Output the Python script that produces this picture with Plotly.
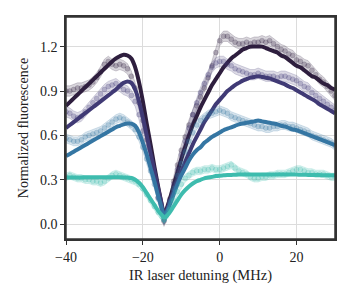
import plotly.graph_objects as go

# detuning grid (MHz)
x_det = [-40, -39, -38, -37, -36, -35, -34, -33, -32, -31, -30, -29, -28, -27, -26, -25,
         -24, -23, -22, -21, -20, -19, -18, -17, -16, -15, -14.5, -14, -13, -12, -11, -10,
         -9, -8, -7, -6, -5, -4, -3, -2, -1, 0, 1, 2, 3, 4, 5, 6, 7, 8, 9, 10, 11, 12, 13,
         14, 15, 16, 17, 18, 19, 20, 21, 22, 23, 24, 25, 26, 27, 28, 29, 30]

# measured data
data_1 = [0.90, 0.90, 0.91, 0.92, 0.92, 0.93, 0.94, 0.96, 0.99, 1.03, 1.08, 1.10, 1.08, 1.07, 1.08, 1.07,
          1.05, 1.00, 0.92, 0.82, 0.70, 0.57, 0.44, 0.31, 0.18, 0.07, 0.02, 0.06, 0.17, 0.29, 0.40, 0.50,
          0.59, 0.67, 0.74, 0.80, 0.86, 0.92, 0.99, 1.07, 1.16, 1.24, 1.27, 1.27, 1.25, 1.23, 1.22, 1.22,
          1.23, 1.22, 1.23, 1.23, 1.24, 1.23, 1.24, 1.22, 1.20, 1.18, 1.17, 1.15, 1.14, 1.11, 1.10, 1.08,
          1.07, 1.04, 1.01, 0.98, 0.96, 0.93, 0.90, 0.87]
data_2 = [0.76, 0.75, 0.73, 0.72, 0.73, 0.76, 0.79, 0.82, 0.85, 0.88, 0.91, 0.93, 0.94, 0.95, 0.93, 0.91,
          0.90, 0.87, 0.83, 0.74, 0.63, 0.52, 0.41, 0.30, 0.18, 0.08, 0.03, 0.06, 0.16, 0.27, 0.37, 0.47,
          0.56, 0.65, 0.74, 0.82, 0.89, 0.95, 1.01, 1.06, 1.09, 1.10, 1.10, 1.08, 1.07, 1.05, 1.04, 1.03,
          1.02, 1.01, 1.01, 1.02, 1.01, 1.00, 1.00, 1.00, 0.99, 1.00, 1.00, 0.99, 0.98, 0.97, 0.95, 0.93,
          0.92, 0.89, 0.87, 0.85, 0.83, 0.81, 0.79, 0.77]
data_3 = [0.58, 0.57, 0.56, 0.56, 0.57, 0.59, 0.60, 0.61, 0.62, 0.63, 0.65, 0.67, 0.69, 0.71, 0.72, 0.71,
          0.69, 0.67, 0.64, 0.59, 0.52, 0.44, 0.36, 0.27, 0.17, 0.08, 0.03, 0.06, 0.15, 0.24, 0.33, 0.41,
          0.49, 0.56, 0.62, 0.67, 0.70, 0.72, 0.74, 0.75, 0.76, 0.77, 0.76, 0.75, 0.73, 0.72, 0.71, 0.70,
          0.69, 0.68, 0.67, 0.66, 0.66, 0.65, 0.65, 0.66, 0.66, 0.67, 0.67, 0.66, 0.66, 0.65, 0.64, 0.63,
          0.62, 0.60, 0.59, 0.58, 0.57, 0.56, 0.55, 0.53]
data_4 = [0.32, 0.33, 0.32, 0.31, 0.31, 0.30, 0.30, 0.29, 0.29, 0.28, 0.29, 0.31, 0.33, 0.34, 0.33, 0.32,
          0.31, 0.30, 0.29, 0.27, 0.24, 0.20, 0.16, 0.12, 0.08, 0.05, 0.03, 0.05, 0.10, 0.16, 0.22, 0.27,
          0.31, 0.33, 0.35, 0.36, 0.36, 0.37, 0.37, 0.38, 0.37, 0.37, 0.38, 0.39, 0.40, 0.38, 0.36, 0.35,
          0.34, 0.32, 0.31, 0.31, 0.32, 0.32, 0.33, 0.33, 0.34, 0.34, 0.34, 0.35, 0.36, 0.37, 0.37, 0.36,
          0.35, 0.35, 0.34, 0.34, 0.34, 0.33, 0.32, 0.32]

# uncertainty half-widths of the shaded bands
err_1 = 0.035
err_2 = 0.035
err_3 = 0.03
err_4 = 0.025

# model curves
model_1 = [0.80, 0.825, 0.85, 0.875, 0.90, 0.925, 0.95, 0.975, 1.00, 1.025, 1.05, 1.075, 1.10, 1.12, 1.135, 1.145,
           1.14, 1.12, 1.06, 0.96, 0.83, 0.68, 0.54, 0.39, 0.25, 0.12, 0.05, 0.09, 0.17, 0.26, 0.35, 0.44,
           0.52, 0.60, 0.67, 0.73, 0.79, 0.84, 0.89, 0.94, 0.98, 1.02, 1.06, 1.09, 1.12, 1.14, 1.16, 1.18,
           1.19, 1.20, 1.20, 1.20, 1.20, 1.19, 1.18, 1.17, 1.16, 1.14, 1.13, 1.11, 1.09, 1.07, 1.06, 1.04,
           1.02, 1.00, 0.99, 0.97, 0.95, 0.94, 0.92, 0.91]
model_2 = [0.65, 0.67, 0.69, 0.71, 0.73, 0.75, 0.77, 0.79, 0.81, 0.83, 0.85, 0.87, 0.89, 0.91, 0.935, 0.955,
           0.965, 0.955, 0.91, 0.83, 0.72, 0.60, 0.48, 0.36, 0.24, 0.12, 0.05, 0.08, 0.15, 0.22, 0.29, 0.36,
           0.42, 0.48, 0.54, 0.59, 0.64, 0.69, 0.73, 0.77, 0.81, 0.84, 0.87, 0.90, 0.92, 0.94, 0.955, 0.97,
           0.98, 0.99, 0.995, 1.00, 0.995, 0.99, 0.985, 0.975, 0.965, 0.955, 0.945, 0.93, 0.92, 0.905, 0.89, 0.875,
           0.86, 0.845, 0.83, 0.81, 0.795, 0.78, 0.765, 0.75]
model_3 = [0.46, 0.475, 0.49, 0.505, 0.52, 0.535, 0.55, 0.565, 0.58, 0.595, 0.61, 0.625, 0.64, 0.655, 0.665, 0.675,
           0.68, 0.68, 0.665, 0.62, 0.55, 0.47, 0.38, 0.29, 0.19, 0.10, 0.05, 0.07, 0.13, 0.20, 0.27, 0.33,
           0.38, 0.43, 0.47, 0.50, 0.52, 0.55, 0.57, 0.59, 0.605, 0.62, 0.635, 0.645, 0.655, 0.665, 0.675, 0.68,
           0.685, 0.69, 0.695, 0.70, 0.695, 0.69, 0.685, 0.68, 0.675, 0.665, 0.66, 0.65, 0.64, 0.635, 0.625, 0.615,
           0.605, 0.595, 0.585, 0.575, 0.565, 0.555, 0.545, 0.535]
model_4 = [0.315, 0.315, 0.315, 0.316, 0.316, 0.317, 0.317, 0.318, 0.318, 0.318, 0.318, 0.318, 0.318, 0.318, 0.317, 0.316,
           0.315, 0.312, 0.30, 0.28, 0.25, 0.21, 0.17, 0.13, 0.09, 0.06, 0.045, 0.05, 0.08, 0.12, 0.16, 0.20,
           0.23, 0.255, 0.275, 0.29, 0.30, 0.31, 0.315, 0.32, 0.325, 0.328, 0.33, 0.332, 0.333, 0.334, 0.335, 0.335,
           0.335, 0.335, 0.335, 0.335, 0.335, 0.335, 0.335, 0.335, 0.335, 0.335, 0.335, 0.335, 0.335, 0.335, 0.334, 0.334,
           0.333, 0.333, 0.332, 0.332, 0.331, 0.331, 0.330, 0.330]

colors = [(46, 30, 62), (64, 58, 117), (53, 118, 163), (62, 188, 174)]
series = [(data_1, err_1, model_1), (data_2, err_2, model_2),
          (data_3, err_3, model_3), (data_4, err_4, model_4)]

def rgba(c, a):
    return f"rgba({c[0]},{c[1]},{c[2]},{a})"

fig = go.Figure()
for (d, e, m), c in zip(series, colors):
    upper = [v + e for v in d]
    lower = [v - e for v in d]
    fig.add_trace(go.Scatter(x=x_det, y=upper, mode="lines", line=dict(color=rgba(c, 0.25), width=0.8),
                             showlegend=False, hoverinfo="skip"))
    fig.add_trace(go.Scatter(x=x_det, y=lower, mode="lines", line=dict(color=rgba(c, 0.25), width=0.8),
                             fill="tonexty", fillcolor=rgba(c, 0.18), showlegend=False, hoverinfo="skip"))
    fig.add_trace(go.Scatter(x=x_det, y=d, mode="markers",
                             marker=dict(size=5, color=rgba(c, 0.28), line=dict(width=0.5, color=rgba(c, 0.32))),
                             showlegend=False))
    fig.add_trace(go.Scatter(x=x_det, y=m, mode="lines", line=dict(color=rgba(c, 1), width=4, shape="spline"),
                             showlegend=False))

serif = "Liberation Serif"
axis_common = dict(showline=True, linecolor="#333333", linewidth=1.5, mirror=True,
                   showgrid=True, gridcolor="#dcdcdc", gridwidth=1, zeroline=False,
                   ticks="outside", ticklen=4, tickwidth=1.2, tickcolor="#333333",
                   tickfont=dict(family=serif, size=14, color="#222222"))

fig.update_layout(
    width=342, height=292,
    margin=dict(l=58, r=15, t=7, b=61),
    paper_bgcolor="white", plot_bgcolor="white",
    font=dict(family=serif, size=13, color="#222222"),
    xaxis=dict(range=[-40, 30], tickvals=[-40, -20, 0, 20],
               title=dict(text="IR laser detuning (MHz)", font=dict(family=serif, size=14.5), standoff=6),
               **axis_common),
    yaxis=dict(range=[-0.1, 1.4], tickvals=[0.0, 0.3, 0.6, 0.9, 1.2], tickformat=".1f",
               title=dict(text="Normalized fluorescence", font=dict(family=serif, size=14), standoff=8),
               **axis_common),
    shapes=[dict(type="rect", xref="paper", yref="paper", x0=0, x1=1, y0=0, y1=1,
                 line=dict(color="#333333", width=1.5), fillcolor="rgba(0,0,0,0)", layer="above")],
)

fig.write_html("out.html")
